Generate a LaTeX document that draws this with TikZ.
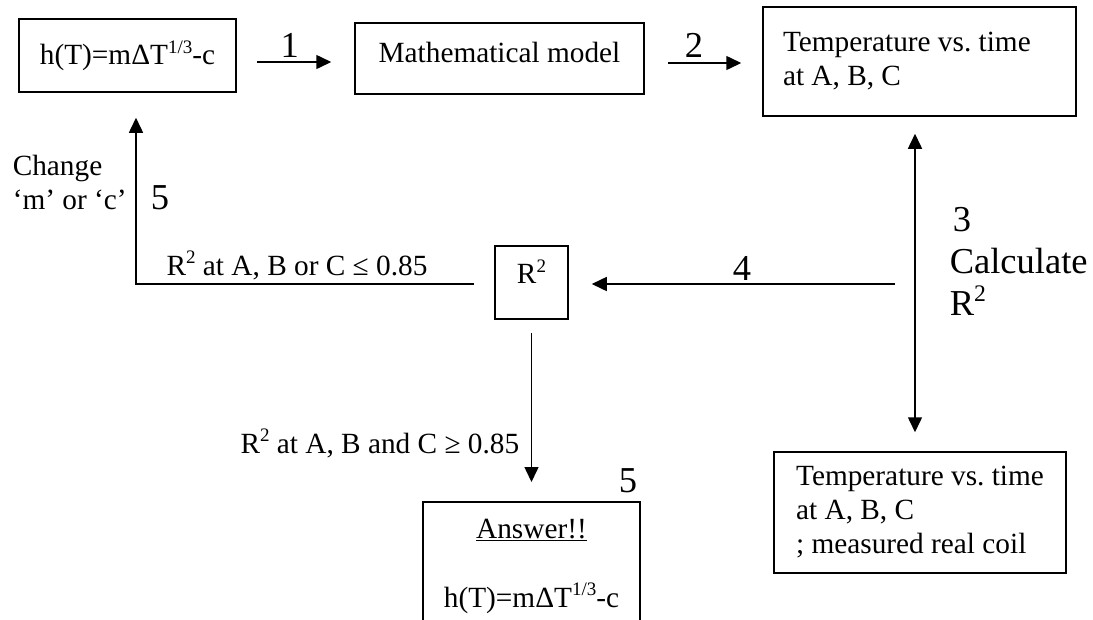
\documentclass[tikz,border=0pt]{standalone}
\usepackage{fontspec}
\setmainfont{Liberation Serif}
\usetikzlibrary{arrows.meta}

\newcommand{\sups}[1]{\raisebox{0.38em}{\scalebox{0.65}{#1}}}

\begin{document}
\frenchspacing
\begin{tikzpicture}[
    x=1pt,
    y=-1pt,
    >={Triangle[length=15pt,width=14pt]},
    font=\fontsize{29.3}{34}\selectfont,
    line width=1.5pt,
    box/.style={draw, line width=1.5pt, inner sep=0pt},
    flow/.style={->, line width=1.5pt},
    num/.style={font=\fontsize{36.5}{42}\selectfont, inner sep=0pt}
]

% parameters
\def\xdbl{915}   % x of the double arrow
\def\yfour{284}  % y of arrow 4 and of the way back

\clip (0,0) rectangle (1093,619);

% ---------------- top row ----------------
\node[box, minimum width=217pt, minimum height=73pt] (law) at (127.5,55.5) {h(T)=mΔT\sups{1/3}-c};
\node[box, minimum width=289pt, minimum height=71pt, text depth=12pt] (model) at (499.5,58.5) {Mathematical model};
\node[box, minimum width=313pt, minimum height=109pt, text width=273pt, align=flush left] (simtemp) at (919.5,61.5) {Temperature vs.\ time\\at A, B, C};

\draw[flow, shorten <=20pt, shorten >=23pt] ([yshift=-6.5pt]law.east) -- node[num, above=4pt, pos=0.45] (one) {1} ([yshift=-3.5pt]model.west);
\draw[flow, shorten <=23pt, shorten >=21pt] ([yshift=-4.5pt]model.east) -- node[num, above=5pt, pos=0.42] (two) {2} ([yshift=-1.5pt]simtemp.west);

% ---------------- measured data and step 3 ----------------
\node[box, minimum width=292pt, minimum height=121pt, align=left] (meastemp) at (920,512.5) {Temperature vs.\ time\\at A, B, C\\; measured real coil};

\coordinate (dbltop) at (\xdbl,0);
\draw[<->, line width=1.5pt, shorten <=17pt, shorten >=19pt] (simtemp.south -| dbltop) -- (meastemp.north -| dbltop);
\node[num, align=left, anchor=west] (calc) at (949,261.5) {\hspace{3pt}3\\Calculate\\R\sups{2}};

% ---------------- R^2 test, step 4 ----------------
\node[box, minimum size=73pt, text height=22pt, text depth=20pt] (rsq) at (531.5,282.5) {R\sups{2}};

\coordinate (calcpt) at (\xdbl,\yfour);
\draw[flow, shorten <=20pt, shorten >=23pt] (calcpt) -- node[num, above=3pt] (four) {4} (calcpt -| rsq.east);

% ---------------- way back: change m or c ----------------
\draw[flow, shorten <=20pt, shorten >=25pt] (rsq.west |- calcpt) -| ([xshift=8.5pt]law.south);
\node[anchor=base, inner sep=0pt] (lowfit) at (297,275) {R\sups{2} at A, B or C ≤ 0.85};
\node[anchor=west, align=left, inner sep=0pt] (change) at (12,182) {Change\\`m' or `c'};
\node[num] (five) at (160,198) {5};

% ---------------- answer ----------------
\node[box, anchor=north, text width=205pt, align=center, inner ysep=17pt, inner xsep=6pt] (answer) at (531.5,501) {\underline{Answer!!}\\[35pt]h(T)=mΔT\sups{1/3}-c};
\node[num] (fivetwo) at (628,481) {5};

\draw[flow, shorten <=13pt, shorten >=19pt] (rsq.south) -- (answer.north);
\node[anchor=base east, inner sep=0pt] (highfit) at (520,453) {R\sups{2} at A, B and C ≥ 0.85};

\end{tikzpicture}
\end{document}
